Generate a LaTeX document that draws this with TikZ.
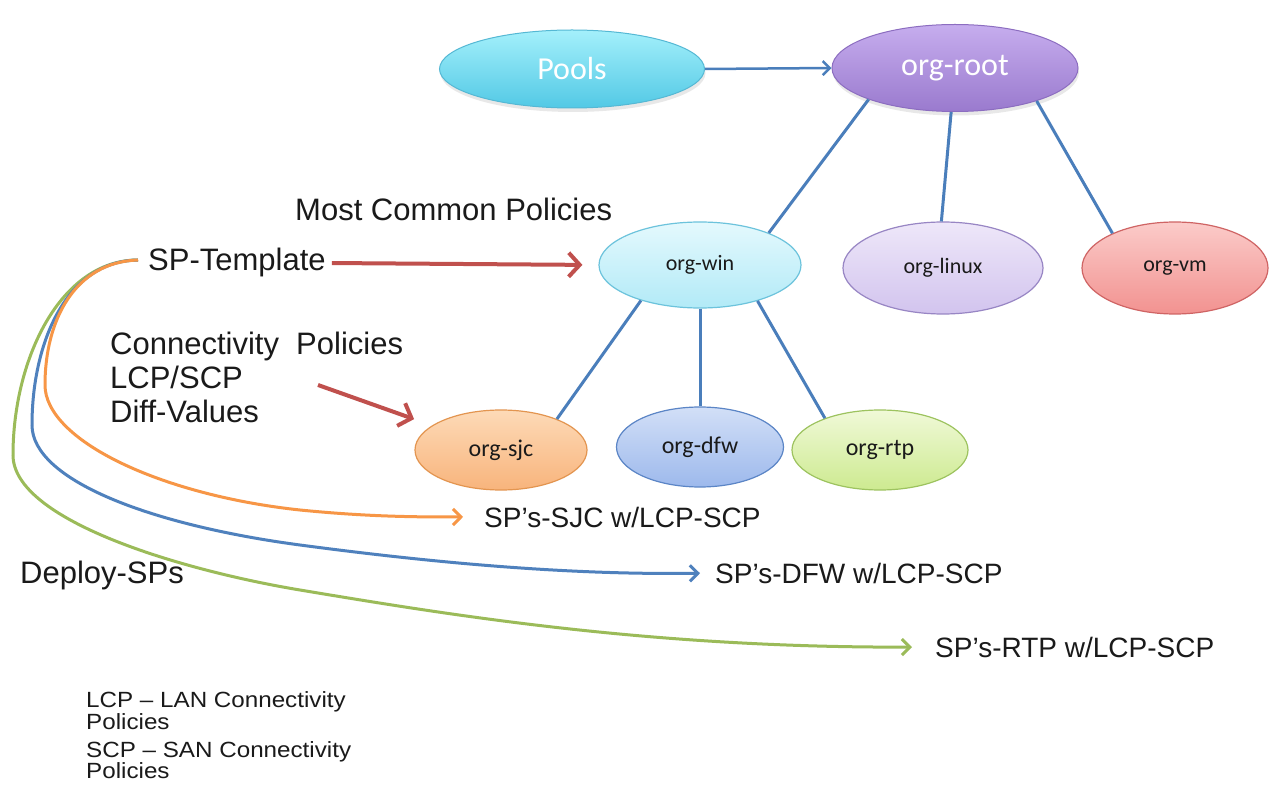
\documentclass[tikz,border=0pt]{standalone}
\usepackage{fontspec}
\setmainfont{Liberation Sans}
\newfontfamily\calibri{Carlito}
\newfontfamily\notefont[FakeStretch=1.1]{Liberation Sans}
\usetikzlibrary{shapes.geometric,arrows.meta,shadows}

\definecolor{poolsT}{HTML}{A4F0FB}
\definecolor{poolsB}{HTML}{52C9E5}
\definecolor{poolsD}{HTML}{55B8D4}
\definecolor{rootT}{HTML}{C6ADEE}
\definecolor{rootB}{HTML}{9A7ACE}
\definecolor{rootD}{HTML}{8C6DC0}
\definecolor{winT}{HTML}{E4F9FD}
\definecolor{winB}{HTML}{B2EAF7}
\definecolor{winD}{HTML}{6CC3DC}
\definecolor{linT}{HTML}{EEE7F9}
\definecolor{linB}{HTML}{D2C4EE}
\definecolor{linD}{HTML}{9886C4}
\definecolor{vmT}{HTML}{FBCBC9}
\definecolor{vmB}{HTML}{F29290}
\definecolor{vmD}{HTML}{CF6464}
\definecolor{sjcT}{HTML}{FDDAB7}
\definecolor{sjcB}{HTML}{F8B47C}
\definecolor{sjcD}{HTML}{E39550}
\definecolor{dfwT}{HTML}{D2DFF7}
\definecolor{dfwB}{HTML}{9DB9EC}
\definecolor{dfwD}{HTML}{5B85C6}
\definecolor{rtpT}{HTML}{F0F9D8}
\definecolor{rtpB}{HTML}{CDEA90}
\definecolor{rtpD}{HTML}{9DC35F}
\definecolor{linkblue}{HTML}{4A7EBB}
\definecolor{arrowred}{HTML}{C0504D}
\definecolor{curvegreen}{HTML}{9BBB59}
\definecolor{curveblue}{HTML}{4F81BD}
\definecolor{curveorange}{HTML}{F79646}
\definecolor{ink}{HTML}{1A1A1A}

\tikzset{
  org/.style={ellipse, inner sep=0pt, line width=1.2pt, text=ink,
    font=\calibri\fontsize{22}{26}\selectfont},
  bigorg/.style={org, text=white, line width=1pt,
    font=\calibri\fontsize{32}{38}\selectfont,
    drop shadow={opacity=0.18, shadow xshift=1pt, shadow yshift=-4pt}},
  loworg/.style={org, font=\calibri\fontsize{24}{28}\selectfont},
  label/.style={inner sep=0pt, anchor=base west, text=ink,
    font=\fontsize{31}{36}\selectfont},
  splabel/.style={label, font=\fontsize{28}{33}\selectfont},
  note/.style={inner sep=0pt, anchor=base west, text=ink,
    font=\notefont\fontsize{22}{26}\selectfont},
  link/.style={draw=linkblue, line width=3pt},
  redarrow/.style={draw=arrowred, line width=4pt,
    -{Straight Barb[length=11pt,width=24pt,line width=4pt]}},
  deploy/.style={line width=3pt,
    -{Straight Barb[length=8pt,width=16pt,line width=3pt]}},
}

\begin{document}
\begin{tikzpicture}[x=1pt,y=-1pt]
\useasboundingbox[fill=white] (0,0) rectangle (1270,786);

% tree of organisations
\node[bigorg, minimum width=265pt, minimum height=78pt,
  top color=poolsT, bottom color=poolsB, draw=poolsD] (pools) at (572,69) {Pools};
\node[bigorg, minimum width=246pt, minimum height=87pt,
  top color=rootT, bottom color=rootB, draw=rootD] (root) at (955,68) {org-root};

\node[org, minimum width=202pt, minimum height=86pt,
  top color=winT, bottom color=winB, draw=winD] (win) at (700,265) {org-win};
\node[org, minimum width=200pt, minimum height=92pt,
  top color=linT, bottom color=linB, draw=linD] (linux) at (943,268) {org-linux};
\node[org, minimum width=186pt, minimum height=92pt,
  top color=vmT, bottom color=vmB, draw=vmD] (vm) at (1175,268) {org-vm};

\node[loworg, minimum width=172pt, minimum height=80pt,
  top color=sjcT, bottom color=sjcB, draw=sjcD] (sjc) at (501,450) {org-sjc};
\node[loworg, minimum width=167pt, minimum height=80pt,
  top color=dfwT, bottom color=dfwB, draw=dfwD] (dfw) at (700,447) {org-dfw};
\node[loworg, minimum width=176pt, minimum height=80pt,
  top color=rtpT, bottom color=rtpB, draw=rtpD] (rtp) at (880,450) {org-rtp};

\draw[linkblue, line width=2.5pt,
  -{Straight Barb[length=7pt,width=14pt,line width=2.5pt]}] (pools.east) -- (root.west);

\draw[link] (root.200) -- (win.25);
\draw[link] (root.265) -- (linux.92);
\draw[link] (root.338) -- (vm.151);
\draw[link] (win.211) -- (sjc.29);
\draw[link] (win.270) -- (dfw.90);
\draw[link] (win.328) -- (rtp.150);

% labels
\node[label] (common) at (295,221) {Most Common Policies};
\node[label] (tmpl) at (148,271) {SP-Template};
\node[label] (conn1) at (110,355) {Connectivity\ \ Policies};
\node[label] (conn2) at (110,389) {LCP/SCP};
\node[label] (conn3) at (110,423) {Diff-Values};
\node[label] (deploy) at (20,583) {Deploy-SPs};

\node[splabel] (sjcsp) at (484,527) {SP’s-SJC w/LCP-SCP};
\node[splabel] (dfwsp) at (715,583) {SP’s-DFW w/LCP-SCP};
\node[splabel] (rtpsp) at (935,657) {SP’s-RTP w/LCP-SCP};

\node[note] (n1) at (86,707) {LCP – LAN Connectivity};
\node[note] (n2) at (86,729) {Policies};
\node[note] (n3) at (86,757) {SCP – SAN Connectivity};
\node[note] (n4) at (86,778) {Policies};

% policy arrows
\draw[redarrow, shorten <=6pt, shorten >=16pt] (tmpl.east) -- (win.west);
\coordinate (connfrom) at (318,385);
\draw[redarrow, shorten >=19pt] (connfrom) -- (sjc);

% deployment curves, all leaving the template
\coordinate (fork) at (138,260);
\draw[deploy, curvegreen, shorten >=23pt]
  (fork) .. controls (60,260) and (13,360) .. (13,455)
  .. controls (13,520) and (180,570) .. (300,590)
  .. controls (450,615) and (650,648) .. (rtpsp.west);
\draw[deploy, curveblue, shorten >=15pt]
  (fork) .. controls (65,261) and (32,345) .. (32,425)
  .. controls (32,480) and (150,525) .. (300,545)
  .. controls (450,565) and (580,575) .. (dfwsp.west);
\draw[deploy, curveorange, shorten >=21pt]
  (fork) .. controls (75,262) and (45,320) .. (45,385)
  .. controls (45,440) and (160,495) .. (300,510)
  .. controls (370,517) and (420,517) .. (sjcsp.west);
\end{tikzpicture}
\end{document}
